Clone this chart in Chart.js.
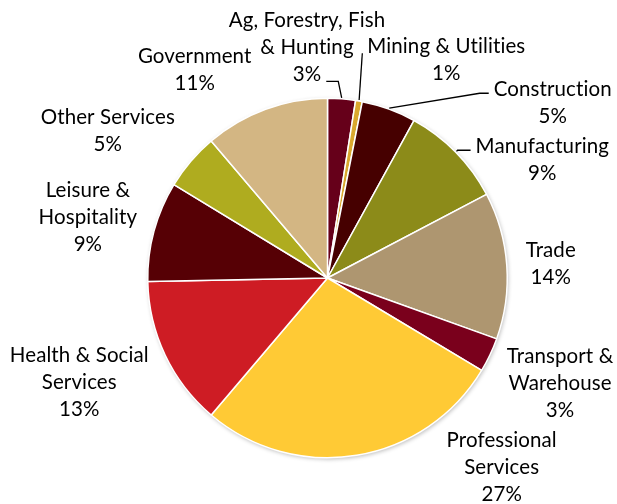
<!DOCTYPE html>
<html>
<head>
<meta charset="utf-8">
<script src="https://cdn.jsdelivr.net/npm/chart.js@4.4.1/dist/chart.umd.min.js"></script>
<style>
  html, body { margin: 0; padding: 0; background: #fff; }
</style>
</head>
<body>
<canvas id="graficoPizza" width="617" height="504"></canvas>
<script>
// Categories (each label split into the lines shown on the chart)
const categorias = [
  ['Ag, Forestry, Fish', '& Hunting'],
  ['Mining & Utilities'],
  ['Construction'],
  ['Manufacturing'],
  ['Trade'],
  ['Transport &', 'Warehouse'],
  ['Professional', 'Services'],
  ['Health & Social', 'Services'],
  ['Leisure &', 'Hospitality'],
  ['Other Services'],
  ['Government']
];

// Slice sizes (percent of total)
const fatias = [2.5, 0.6, 4.9, 9.3, 13.2, 3.1, 27.6, 13.5, 9.0, 5.1, 11.2];

// Percent labels as printed on the chart
const rotulosPct = ['3%', '1%', '5%', '9%', '14%', '3%', '27%', '13%', '9%', '5%', '11%'];

const cores = [
  '#66001a', '#d9a82e', '#460000', '#8c8b19', '#ae9670', '#7a001c',
  '#ffca35', '#ce1c24', '#560005', '#afac1f', '#d3b683'
];

// Label placement, relative to pie centre, in units of the radius
const posRotulos = [
  [-0.114, -1.394], [0.661, -1.250], [1.253, -1.011], [1.195, -0.694],
  [1.242, -0.117], [1.294, 0.472], [0.969, 0.939], [-1.381, 0.467],
  [-1.333, -0.450], [-1.222, -0.856], [-0.739, -1.194]
];

// Leader lines: which text line they attach to, which side, elbow length, vertical nudge
const guias = {
  0: { linha: 2, lado: 'right', cauda: 12, dy: 0 },
  1: { linha: 0, lado: 'left', cauda: 0, dy: 0 },
  2: { linha: 0, lado: 'left', cauda: 9, dy: -3 },
  3: { linha: 0, lado: 'left', cauda: 13, dy: -3 }
};

const ALTURA_LINHA = 27;
const FONTE = '20.5px Lato, "Open Sans", sans-serif';

// Soft shadow behind the pie
const sombraPlugin = {
  id: 'sombra',
  beforeDatasetsDraw(chart) {
    const arc = chart.getDatasetMeta(0).data[0];
    if (!arc) return;
    const ctx = chart.ctx;
    ctx.save();
    ctx.shadowColor = 'rgba(0,0,0,0.28)';
    ctx.shadowBlur = 4;
    ctx.shadowOffsetX = 1;
    ctx.shadowOffsetY = 1.5;
    ctx.fillStyle = '#fff';
    ctx.beginPath();
    ctx.arc(arc.x, arc.y, arc.outerRadius, 0, Math.PI * 2);
    ctx.fill();
    ctx.restore();
  }
};

// Draws the outside labels and leader lines
const rotulosPlugin = {
  id: 'rotulos',
  afterDatasetsDraw(chart) {
    const ctx = chart.ctx;
    const arcs = chart.getDatasetMeta(0).data;
    ctx.save();
    ctx.font = FONTE;
    // a tiny letter spacing keeps Lato from joining "ti" into a ligature
    if ('letterSpacing' in ctx) ctx.letterSpacing = '0.1px';
    ctx.fillStyle = '#000';
    ctx.strokeStyle = '#000';
    ctx.lineWidth = 1.3;
    ctx.textAlign = 'center';
    ctx.textBaseline = 'alphabetic';
    arcs.forEach((arc, i) => {
      const r = arc.outerRadius;
      const lx = arc.x + posRotulos[i][0] * r;
      const ly = arc.y + posRotulos[i][1] * r;
      const linhas = categorias[i].concat([rotulosPct[i]]);
      linhas.forEach((t, k) => ctx.fillText(t, lx, ly + k * ALTURA_LINHA));

      const g = guias[i];
      if (g) {
        const w = ctx.measureText(linhas[g.linha]).width;
        const sinal = g.lado === 'right' ? 1 : -1;
        const ax = lx + sinal * (w / 2 + 5);
        const ay = ly + g.linha * ALTURA_LINHA + g.dy;
        const meio = (arc.startAngle + arc.endAngle) / 2;
        const px = arc.x + Math.cos(meio) * (r + 1);
        const py = arc.y + Math.sin(meio) * (r + 1);
        ctx.beginPath();
        ctx.moveTo(ax, ay);
        ctx.lineTo(ax + sinal * g.cauda, ay);
        ctx.lineTo(px, py);
        ctx.stroke();
      }
    });
    ctx.restore();
  }
};

function montarGrafico() {
  const ctx = document.getElementById('graficoPizza').getContext('2d');
  new Chart(ctx, {
    type: 'pie',
    data: {
      labels: categorias.map(c => c.join(' ')),
      datasets: [{
        data: fatias,
        backgroundColor: cores,
        borderColor: '#ffffff',
        borderWidth: 1.5
      }]
    },
    options: {
      responsive: false,
      animation: false,
      layout: { padding: { left: 147, right: 109, top: 97, bottom: 45 } },
      plugins: {
        legend: { display: false },
        tooltip: { enabled: false }
      }
    },
    plugins: [sombraPlugin, rotulosPlugin]
  });
}

montarGrafico();
</script>
</body>
</html>
